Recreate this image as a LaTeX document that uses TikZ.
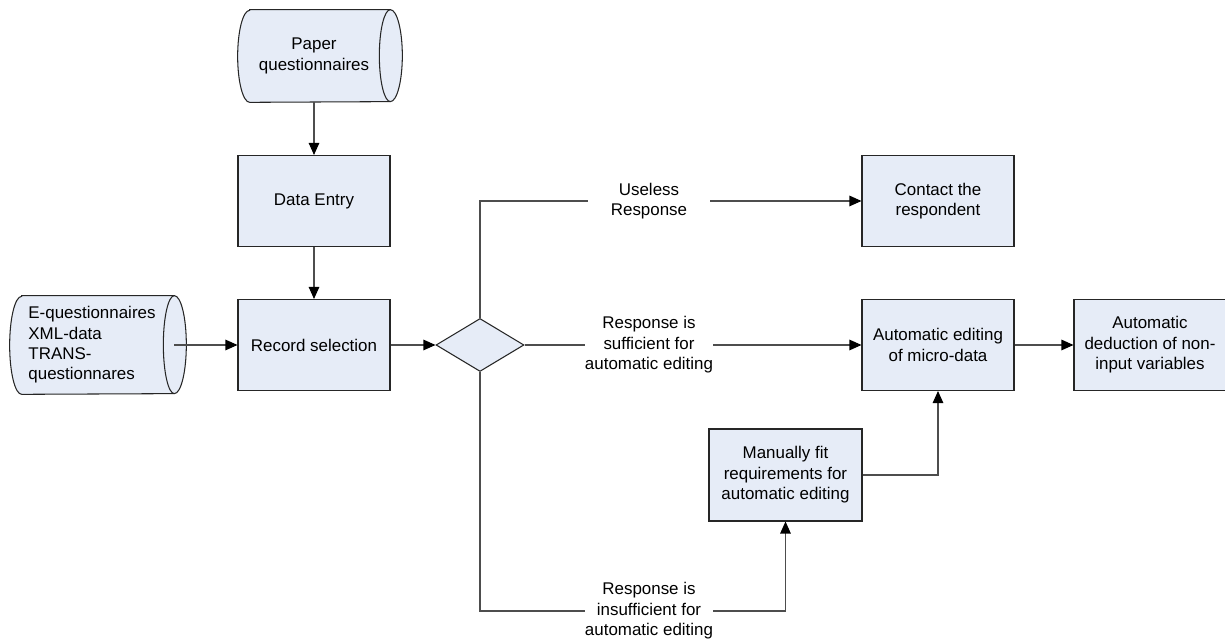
\documentclass[tikz,border=0pt]{standalone}
\usepackage{fontspec}
\setmainfont{Liberation Sans}
\usetikzlibrary{arrows.meta,shapes.geometric,backgrounds}
\definecolor{boxfill}{HTML}{E6ECF7}
\definecolor{linegray}{HTML}{4D4D4D}
\tikzset{
  procbox/.style={draw=black!85, fill=boxfill, line width=0.6pt, minimum width=3.04cm, minimum height=1.82cm, align=center, inner sep=0pt},
  storenode/.style={minimum width=3.28cm, inner sep=0pt},
  storeline/.style={draw=black!85, fill=boxfill, line width=0.6pt},
  decision/.style={diamond, draw=black!85, fill=boxfill, line width=0.6pt, minimum width=1.76cm, minimum height=1.06cm, aspect=1.66, inner sep=0pt},
  arr/.style={draw=linegray, line width=0.6pt, -{Triangle[length=0.24cm, width=0.21cm, color=black]}},
  lbl/.style={fill=white, align=center, inner xsep=0pt, inner ysep=1pt, minimum width=2.44cm}
}
% stored data symbol round a named node
\newcommand{\storedata}[2]{%
  \draw[storeline] ([xshift=0.24cm]#1.north west) -- (#1.north east)
    arc[start angle=90, end angle=-90, x radius=0.24cm, y radius=#2]
    -- ([xshift=0.24cm]#1.south west)
    arc[start angle=270, end angle=90, x radius=0.24cm, y radius=#2] -- cycle;
  \draw[storeline, fill=none] (#1.north east) arc[start angle=90, end angle=270, x radius=0.22cm, y radius=#2];}
\begin{document}
\begin{tikzpicture}[x=0.02cm, y=0.02cm, font=\fontsize{9.64pt}{11.6pt}\selectfont]
\useasboundingbox (0,0) rectangle (1225,641);
% sources
\node[storenode, minimum width=3.04cm, minimum height=1.84cm, align=center] (pq) at (314,585) {Paper\\questionnaires};
\node[storenode, minimum height=1.96cm, align=left] (eq) at (92,296) {E-questionnaires\\XML-data\\TRANS-\\questionnares};
\begin{scope}[on background layer]
\storedata{pq}{0.92cm}
\storedata{eq}{0.98cm}
\end{scope}
% steps
\node[procbox] (de) at (314,440) {Data Entry};
\node[procbox] (rs) at (314,296) {Record selection};
\node[decision] (dm) at (480,296) {};
\node[procbox] (ct) at (938,440) {Contact the\\respondent};
\node[procbox] (ae) at (938,296) {Automatic editing\\of micro-data};
\node[procbox] (ad) at (1150,296) {Automatic\\deduction of non-\\input variables};
\node[procbox, minimum width=3.06cm, minimum height=1.84cm] (mf) at (785.5,166) {Manually fit\\requirements for\\automatic editing};
\coordinate (cb) at (785.5,30);
% connectors
\draw[arr] (pq.south) -- (de.north);
\draw[arr] (de) -- (rs);
\draw[arr] (eq.east) -- (rs.west);
\draw[arr] (rs) -- (dm);
\draw[arr] (dm.north) |- (ct.west);
\draw[arr] (dm) -- (ae);
\draw[arr] (dm.south) |- (cb) -- (mf.south);
\draw[arr] (mf.east) -| (ae.south);
\draw[arr] (ae) -- (ad);
% labels
\node[lbl] (lbuse) at (649,440) {Useless\\Response};
\node[lbl] (lbsuf) at (649,296) {Response is\\sufficient for\\automatic editing};
\node[lbl] (lbins) at (649,30) {Response is\\insufficient for\\automatic editing};
\end{tikzpicture}
\end{document}
